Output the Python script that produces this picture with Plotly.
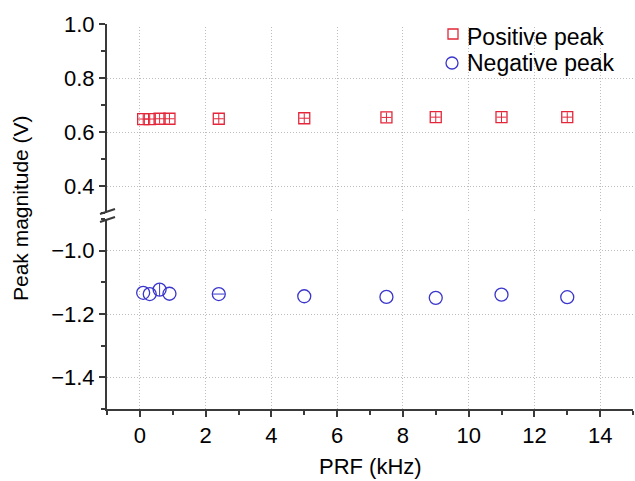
import plotly.graph_objects as go

prf_khz = [0.1, 0.3, 0.6, 0.9, 2.4, 5, 7.5, 9, 11, 13]
positive_peak = [0.648, 0.648, 0.649, 0.649, 0.649, 0.651, 0.654, 0.655, 0.655, 0.655]
negative_peak = [-1.133, -1.137, -1.123, -1.136, -1.137, -1.144, -1.146, -1.149, -1.139, -1.147]
pos_err_y = [0.018] * 10
pos_err_x = [0.15] * 10
neg_err_y = [0, 0, 0.02, 0, 0, 0, 0, 0, 0, 0]
neg_err_x = [0, 0, 0, 0, 0.18, 0, 0, 0, 0, 0]
legend_labels = ["Positive peak", "Negative peak"]

RED = "#e3263a"
BLUE = "#3a36cc"
AX = "#3a3a3a"
FONT = "Liberation Sans, Arial, Helvetica, sans-serif"

L, R, T, B = 107, 2, 24, 72
W, H = 635, 481
PW, PH = W - L - R, H - T - B


def px2paper(px, py):
    return (px - L) / PW, (H - B - py) / PH


fig = go.Figure()
fig.add_trace(go.Scatter(
    x=prf_khz, y=positive_peak, mode="markers", name=legend_labels[0],
    xaxis="x2", yaxis="y2", showlegend=False,
    marker=dict(symbol="square-open", size=11, color=RED, line=dict(width=1.3, color=RED)),
    error_y=dict(type="data", array=pos_err_y, width=0, thickness=1, color=RED),
    error_x=dict(type="data", array=pos_err_x, width=0, thickness=1, color=RED),
))
fig.add_trace(go.Scatter(
    x=prf_khz, y=negative_peak, mode="markers", name=legend_labels[1],
    xaxis="x", yaxis="y", showlegend=False,
    marker=dict(symbol="circle-open", size=13, color=BLUE, line=dict(width=1.3, color=BLUE)),
    error_y=dict(type="data", array=neg_err_y, width=0, thickness=1, color=BLUE),
    error_x=dict(type="data", array=neg_err_x, width=0, thickness=1, color=BLUE),
))

grid = dict(showgrid=True, gridcolor="#bdbdbd", griddash="1px,2px", gridwidth=1)
lo_top = (H - B - 219) / PH
up_bot = (H - B - 213) / PH
tickfont = dict(family=FONT, size=22, color="black")

common_y = dict(tickformat=".1f", showline=True, linecolor=AX, linewidth=2,
                ticks="outside", ticklen=6, tickwidth=2, tickcolor=AX, zeroline=False,
                automargin=False, tickfont=tickfont)

fig.update_layout(
    width=W, height=H,
    margin=dict(l=L, r=R, t=T, b=B),
    paper_bgcolor="white", plot_bgcolor="white",
    font=dict(family=FONT, size=22, color="black"),
    showlegend=False,
    xaxis=dict(domain=[0, 1], anchor="y", range=[-1, 15], dtick=2, tick0=0,
               showline=True, linecolor=AX, linewidth=2, ticks="outside",
               ticklen=6, tickwidth=2, tickcolor=AX, zeroline=False, automargin=False,
               tickfont=tickfont,
               minor=dict(dtick=1, tick0=0, ticks="outside", ticklen=4, tickcolor=AX, showgrid=False),
               **grid),
    xaxis2=dict(domain=[0, 1], anchor="y2", matches="x", range=[-1, 15], dtick=2, tick0=0,
                showticklabels=False, showline=False, ticks="", zeroline=False,
                automargin=False, **grid),
    yaxis=dict(domain=[0, lo_top], anchor="x", range=[-1.5, -0.9], dtick=0.2, tick0=-1.0,
               minor=dict(dtick=0.1, tick0=-1.5, ticks="outside", ticklen=4, tickcolor=AX, showgrid=False),
               **common_y, **grid),
    yaxis2=dict(domain=[up_bot, 1], anchor="x2", range=[0.3, 1.0], dtick=0.2, tick0=0.4,
                minor=dict(dtick=0.1, tick0=0.3, ticks="outside", ticklen=4, tickcolor=AX, showgrid=False),
                **common_y, **grid),
)

# axis titles
ax_, ay_ = px2paper(20, 208)
fig.add_annotation(text="Peak magnitude (V)", xref="paper", yref="paper", x=ax_, y=ay_,
                   textangle=-90, showarrow=False, font=dict(size=21),
                   xanchor="center", yanchor="middle")
bx_, by_ = px2paper(370, 466)
fig.add_annotation(text="PRF (kHz)", xref="paper", yref="paper", x=bx_, y=by_,
                   showarrow=False, font=dict(size=22), xanchor="center", yanchor="middle")

# hide top gridline at 1.0 (reference has none)
x0, y0 = px2paper(L + 3, T)
fig.add_shape(type="line", xref="paper", yref="paper", x0=x0, x1=1, y0=1, y1=1,
              line=dict(color="white", width=2), layer="above")

# axis break marks
for (x0p, y0p, x1p, y1p) in [(100, 214, 115, 209), (100, 222, 115, 217)]:
    a, b = px2paper(x0p, y0p)
    c, d = px2paper(x1p, y1p)
    fig.add_shape(type="line", xref="paper", yref="paper", x0=a, y0=b, x1=c, y1=d,
                  line=dict(color=AX, width=2))

# legend (drawn manually for tight spacing)
sx0, sy0 = px2paper(448, 29)
sx1, sy1 = px2paper(458, 39)
fig.add_shape(type="rect", xref="paper", yref="paper", x0=sx0, y0=sy1, x1=sx1, y1=sy0,
              line=dict(color=RED, width=1.3))
cx0, cy0 = px2paper(446, 57)
cx1, cy1 = px2paper(458, 69)
fig.add_shape(type="circle", xref="paper", yref="paper", x0=cx0, y0=cy1, x1=cx1, y1=cy0,
              line=dict(color=BLUE, width=1.3))
for label, py in zip(legend_labels, [37, 63]):
    tx, ty = px2paper(465, py)
    fig.add_annotation(text=label, xref="paper", yref="paper", x=tx, y=ty,
                       showarrow=False, font=dict(size=23), xanchor="left", yanchor="middle")

fig.write_html("out.html", config={"displayModeBar": False},
               post_script="document.body.style.margin='0';document.body.style.overflow='hidden';")
